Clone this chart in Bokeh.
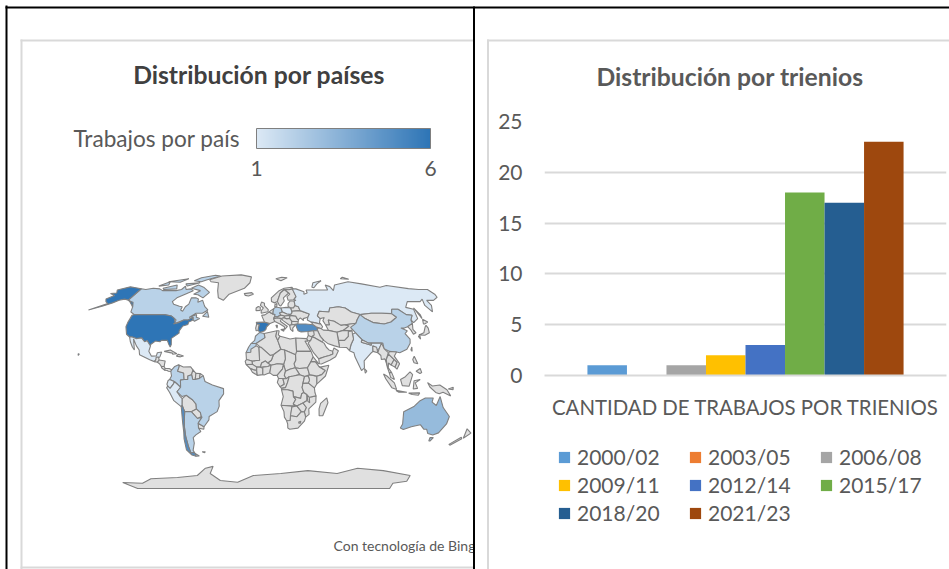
import numpy as np
from bokeh.embed import file_html
from bokeh.layouts import row
from bokeh.models import (ColorBar, ColumnDataSource, FactorRange, FixedTicker, Legend, LegendItem,
                          LinearColorMapper, Range1d)
from bokeh.plotting import figure
from bokeh.resources import INLINE
from bokeh.transform import dodge, transform
from bokeh.core.properties import value

# ---- bar chart data
PERIODS = ["2000/02", "2003/05", "2006/08", "2009/11", "2012/14", "2015/17", "2018/20", "2021/23"]
COUNTS = [1, 0, 1, 2, 3, 18, 17, 23]
COLORS = ["#5b9bd5", "#ed7d31", "#a5a5a5", "#ffc000", "#4472c4", "#70ad47", "#255e91", "#9e480e"]
CATEGORY = "CANTIDAD DE TRABAJOS POR TRIENIOS"

# ---- map data: works per country
WORKS = {"USA": 6, "Spain": 6, "Turkey": 5, "Chile": 5, "Australia": 3, "Canada": 2, "Brazil": 2, "Colombia": 2,
         "Argentina": 2, "China": 2, "Germany": 2, "Morocco": 2, "Mexico": 1, "Peru": 1, "Ecuador": 1,
         "Russia": 1, "India": 1, "Poland": 1}

# (country, outline as lon/lat)
SHAPES = [
 ("Canada", [(-141,69.6),(-135,69),(-128,70),(-120,69.5),(-115,68),(-108,68),(-100,68),(-95,69),(-94,72),(-90,69),(-85,69.5),(-81,68),(-87,65),(-93,62),(-95,59),(-92,57),(-85,55.3),(-82,55),(-82,52.5),(-79.5,51.5),(-79,55),(-77,57),(-78,62),(-73,62),(-70,61),(-69,58.5),(-65,60),(-62,57),(-60,55),(-56,52.5),(-60,50),(-66,50),(-71,46.8),(-65,49),(-64.5,47),(-61,46),(-65,44),(-66.5,45),(-67.5,47),(-71,45),(-75,45),(-79,43.5),(-83,42),(-82,45),(-88,48),(-95,49),(-123,49),(-128,51),(-130,54.5),(-134,58),(-137,59),(-141,60)]),
 ("Canada", [(-80,73),(-72,71),(-62,66.5),(-66,62),(-73,64.5),(-78,65),(-73,68),(-85,70)]),
 ("Canada", [(-117,70),(-105,73),(-101,69.5),(-115,69)]),
 ("Canada", [(-90,77),(-85,80),(-70,83),(-62,82),(-75,78),(-80,76)]),
 ("Canada", [(-125,72),(-118,76),(-115,73)]),
 ("Canada", [(-96,74),(-80,75),(-92,72)]),
 ("Canada", [(-120,76),(-100,79),(-105,75.5)]),
 ("Canada", [(-59,47.7),(-56,51.5),(-53,47)]),
 ("USA", [(-124.7,48.4),(-123,49),(-95,49),(-88,48),(-84,46),(-82,43),(-83,42),(-79,43),(-75,45),(-71,45),(-67.5,47),(-67,44.8),(-70,43.5),(-70,41.7),(-74,40.5),(-76,37),(-75.5,35.3),(-81,31.5),(-80,27),(-80.5,25.2),(-82,27),(-84,30),(-89,30),(-90,29),(-94,29.5),(-97.3,27),(-97.2,25.9),(-101,29.7),(-103,29),(-106.5,31.8),(-111,31.3),(-114.8,32.5),(-117,32.5),(-120.5,34.5),(-124,40),(-124.5,43)]),
 ("USA", [(-141,69.6),(-156.5,71.3),(-166,68.5),(-162,66),(-168,65.6),(-161,64),(-165,61),(-162,59),(-158,57.5),(-170,52.5),(-160,55.5),(-154,58),(-150,60),(-146,61),(-140,60),(-134,57),(-130,54.7),(-134,58.5),(-137,59),(-141,60)]),
 ("USA", [(-156,20.3),(-155,20),(-155.6,19)]),
 ("Mexico", [(-117,32.5),(-114.8,32.5),(-111,31.3),(-106.5,31.8),(-103,29),(-101,29.7),(-97.2,25.9),(-97.8,22),(-95,18.5),(-91,18.7),(-90.5,21),(-87,21.5),(-88,18),(-91,16),(-92,14.5),(-96,15.8),(-105,19.5),(-106,23),(-109,26),(-113,31),(-110,23),(-112,25),(-115,29)]),
 ("Guatemala", [(-92,14.5),(-91,16),(-91,17.8),(-89,17.8),(-88.3,15.7),(-89.5,14)]),
 ("Honduras", [(-89.5,14),(-88.3,15.7),(-83.2,15),(-83.7,11),(-86,11),(-87.7,13)]),
 ("Costa Rica", [(-86,11),(-83.7,11),(-82.7,9.5),(-83,8.2),(-85.7,10)]),
 ("Panama", [(-83,8.2),(-82.7,9.5),(-79.5,9.5),(-77.3,8.5),(-78,7.3),(-80,7.5),(-81,8)]),
 ("Cuba", [(-85,22),(-80,23),(-74.2,20.2),(-77.7,19.9),(-78,20.7)]),
 ("Hispaniola", [(-74.4,18.5),(-73,19.9),(-68.5,18.6),(-71,18)]),
 ("Colombia", [(-77.3,8.5),(-75,11),(-72,12.2),(-71.3,11),(-72.5,7.5),(-67.5,6.2),(-67,1.5),(-70,1),(-69.9,-4.2),(-72,-2.4),(-75,0),(-78.8,1.4),(-77.3,4),(-78,7.3)]),
 ("Venezuela", [(-72,12.2),(-68,10.6),(-62,10.7),(-60,8.5),(-61,5),(-64,4),(-64,1.5),(-67,1.5),(-67.5,6.2),(-72.5,7.5),(-71.3,11)]),
 ("Guyana", [(-60,8.5),(-57.5,6),(-58,1.5),(-60,1.5),(-61,5)]),
 ("Suriname", [(-57.5,6),(-54,5.8),(-54.5,2.3),(-58,1.5)]),
 ("Guiana", [(-54,5.8),(-51.5,4.3),(-54.5,2.3)]),
 ("Ecuador", [(-80,0.8),(-78.8,1.4),(-75,0),(-75.5,-1.5),(-78.5,-5),(-80.3,-3.4),(-81,-2)]),
 ("Peru", [(-81.3,-4.5),(-80.3,-3.4),(-78.5,-5),(-75.5,-1.5),(-75,0),(-72,-2.4),(-69.9,-4.2),(-73,-7.5),(-70.5,-11),(-69,-12.5),(-69.5,-17.5),(-70.4,-18.3),(-76,-14),(-79,-8)]),
 ("Bolivia", [(-69,-12.5),(-65.5,-10),(-60.5,-13.5),(-58,-16.5),(-58,-20),(-62.5,-22),(-65,-22),(-68,-22),(-69.5,-17.5)]),
 ("Paraguay", [(-62.5,-22),(-58,-20),(-55,-22.5),(-54.5,-25.5),(-58,-27)]),
 ("Uruguay", [(-58.4,-34),(-58,-30.5),(-53.5,-33),(-54,-34.8)]),
 ("Argentina", [(-68,-22),(-65,-22),(-62.5,-22),(-58,-27),(-54,-26),(-58,-30.5),(-58.4,-34),(-57,-36.5),(-62,-39),(-65,-41),(-65.5,-45),(-69,-50.5),(-68.5,-52.4),(-72,-52),(-72,-48),(-71.3,-40),(-70.3,-33),(-69,-27)]),
 ("Argentina", [(-68.6,-52.7),(-65.3,-54.8),(-68.6,-55)]),
 ("Chile", [(-70.4,-18.3),(-69.5,-17.5),(-68,-22),(-69,-27),(-70.3,-33),(-71.3,-40),(-72,-48),(-72,-52),(-68.5,-52.4),(-68.6,-55),(-72,-54),(-75,-50),(-73.5,-42),(-72,-37),(-71,-30)]),
 ("Brazil", [(-51.5,4.3),(-50,0),(-44,-2.5),(-35,-5.2),(-35,-9),(-39,-14),(-39,-18),(-41,-22),(-48,-25.5),(-48.5,-28),(-53.5,-33),(-58,-30.5),(-54,-26),(-54.5,-25.5),(-55,-22.5),(-58,-20),(-58,-16.5),(-60.5,-13.5),(-65.5,-10),(-69,-11),(-73,-7.5),(-69.9,-4.2),(-70,1),(-67,1.5),(-64,1.5),(-64,4),(-61,5),(-60,1.5),(-58,1.5),(-54.5,2.3)]),
 ("Falklands", [(-61,-51.5),(-58,-51.5),(-59,-52.3)]),
 ("Greenland", [(-72,78),(-60,82),(-35,83.5),(-20,81),(-20,75),(-25,70),(-40,65),(-44,60),(-50,62),(-54,68),(-58,75),(-68,76)]),
 ("Iceland", [(-24,65.5),(-16,66.3),(-14,65),(-19,63.5),(-22.5,64)]),
 ("Spain", [(-9.2,43.2),(-2,43.4),(3.2,42.4),(0,39.8),(-0.5,38),(-2,36.8),(-5.5,36),(-7.4,37.2),(-7,39.5),(-6.5,41.8),(-8.8,42)]),
 ("Portugal", [(-8.8,42),(-6.5,41.8),(-7,39.5),(-7.4,37.2),(-9,37),(-9.5,39)]),
 ("France", [(-1.8,43.4),(-4.5,48.4),(-1.5,48.8),(2.5,51),(6,49.5),(8,49),(7.5,47.5),(6.5,46),(7.5,43.8),(3.2,42.4)]),
 ("UK", [(-5,50),(1.4,51.2),(1.7,52.8),(-2,55.8),(-2,57.7),(-5,58.6),(-6,56),(-3,54),(-5,52)]),
 ("Ireland", [(-10,52),(-6,52.2),(-6,54.5),(-8,55.2),(-10,54)]),
 ("Germany", [(6,51),(7,53.5),(9,54.8),(14,54),(15,51),(12.2,50.2),(13.5,48.6),(10,47.4),(7.5,47.6),(8,49),(6,49.5)]),
 ("Benelux", [(2.5,51),(4,52),(7,53.5),(6,51),(6,49.5)]),
 ("Alps", [(7.5,47.6),(10,47.4),(13.5,48.6),(17,48),(16,46.7),(13.7,46),(10,46.5),(6.5,46)]),
 ("Italy", [(7.5,43.8),(6.5,46),(10,46.5),(13.7,46),(12.5,44),(18.5,40.2),(16,38),(15.7,40),(12,42)]),
 ("Italy", [(12.5,38),(15.6,38.2),(15,36.7)]),
 ("Sardinia", [(8.3,41),(9.7,41),(9.3,39)]),
 ("Poland", [(14,54),(19,54.5),(23.5,54),(24,50.5),(22.5,49),(19,49.5),(15,51)]),
 ("Czechia", [(12.2,50.2),(15,51),(19,49.5),(22.5,49),(22,48.4),(17,48),(13.5,48.6)]),
 ("Hungary", [(17,48),(22,48.4),(21,46.2),(18.5,45.8),(16,46.7)]),
 ("Romania", [(22,48.4),(27,48),(28.2,45.5),(29,44.8),(28.5,43.7),(22.7,44),(21,46.2)]),
 ("Balkans", [(13.7,46),(16,46.7),(18.5,45.8),(21,46.2),(22.7,44),(22.5,41.5),(20.5,41),(19,42),(15,44.5)]),
 ("Bulgaria", [(22.7,44),(28.5,43.7),(28,42),(22.5,41.5)]),
 ("Greece", [(20.5,41),(22.5,41.5),(26,41.5),(23,39),(23,36.5),(21,38)]),
 ("Norway", [(5,59),(5,62),(14,68),(20,70),(29,71),(30,69.5),(25,68.8),(20,69),(15,66),(12,61),(11,59),(8,58)]),
 ("Sweden", [(11,59),(12,61),(15,66),(20,69),(24,66),(17.5,62),(18,59.5),(14,55.5),(12.7,56)]),
 ("Finland", [(20,69),(25,68.8),(29,69.5),(31,63),(27.8,60.5),(22,60),(21.5,63),(25,65),(24,66)]),
 ("Denmark", [(8,55),(8.5,57),(10.5,57.5),(10,55)]),
 ("Baltics", [(21,55.2),(21.5,57.5),(24,59.5),(28,59.5),(28,56),(26,54),(23.5,54)]),
 ("Belarus", [(23.5,54),(26,54),(28,56),(31,55),(32,52),(24,51.5)]),
 ("Ukraine", [(24,50.5),(24,51.5),(32,52),(40,49.5),(38,47),(33.5,46),(33.5,44.5),(31,46.5),(29,45.2),(28.2,45.5),(27,48),(22,48.4),(22.5,49)]),
 ("Russia", [(28,59.5),(30,60),(28,60.5),(31,63),(29,69.5),(33,69.5),(41,67),(40,65),(44,66),(44,68.5),(54,68.5),(68,68.5),(69,73),(73,71.5),(74,68),(80,73),(100,76),(113,74),(130,71),(140,72.5),(160,69.7),(170,69),(180,69),(180,65),(178,62.5),(170,60),(163,60),(162,56),(156.7,51),(155.5,56),(160,61),(155,59),(142,59),(135,54.5),(141,53),(138,46),(132,43),(131,45),(135,48.5),(130,49),(126,53),(120,53),(117,49.7),(108,50),(98,50),(87,49),(80,51),(76,54),(70,55),(61,54),(59,51),(50,51.5),(47,48),(49,46),(47.5,43),(48.5,41.8),(43,43),(40,43.5),(37,45),(38,47),(40,49.5),(32,52),(31,55),(28,56)]),
 ("Russia", [(52,71),(56,75),(68,77),(60,74),(54,70.5)]),
 ("Russia", [(142,46),(142,54),(143,49)]),
 ("Svalbard", [(12,79),(20,80.5),(27,80),(18,77)]),
 ("Severnaya", [(95,79),(105,78.5),(100,80.5)]),
 ("Turkey", [(26,41.8),(28,42),(35,42),(41.5,41.5),(44.5,39.5),(44.5,37),(36,36.5),(30,36.2),(27.5,37),(26.5,39.5)]),
 ("Caucasus", [(40,43.5),(43,43),(48.5,41.8),(49.5,40),(48,38.5),(44.5,39.5),(41.5,41.5)]),
 ("Kazakhstan", [(47,48),(50,51.5),(59,51),(61,54),(70,55),(76,54),(80,51),(87,49),(82.5,45.3),(80,42.5),(70,41.5),(66,41),(61,44),(56,45),(56,41.3),(52.5,41.5),(51,44.5),(53,46.8),(49,46)]),
 ("Uzbekistan", [(52.5,41.5),(56,41.3),(56,45),(61,44),(66,41),(70,41.5),(73,40.5),(67,37.3),(61,36),(54,37.3),(53,40)]),
 ("Kyrgyzstan", [(70,41.5),(80,42.5),(74,37),(67,37.3),(73,40.5)]),
 ("Mongolia", [(87,49),(98,50),(108,50),(117,49.7),(119.5,47),(112,43.5),(105,42),(96,43),(90,46)]),
 ("China", [(74,39.5),(80,42.5),(82.5,45.3),(87,49),(90,46),(96,43),(105,42),(112,43.5),(119.5,47),(117,49.7),(120,53),(126,53),(130,49),(135,48.5),(131,45),(130.5,42.5),(124.5,40),(121,39),(118,39),(122.5,37),(119.5,35),(122,31),(121,28),(117,23.5),(110.5,21),(108,21.5),(102,22),(98,24),(98,28),(92,28),(88,28),(86,28),(81,30.5),(79,33),(77,35.5)]),
 ("India", [(74,34.5),(77,35.5),(79,33),(81,30.5),(80,28.7),(88,26.5),(88,28),(92,28),(97,28),(94,24),(92,23),(89,26),(88.5,22),(87,21),(80.2,15),(80,10),(77.5,8),(73,18),(72.5,21),(69,22.5),(71,27),(74,31)]),
 ("Pakistan", [(61,25),(61,30),(66,30),(70,33),(71,36.5),(74.5,37),(74,34.5),(74,31),(71,27),(69,22.5),(67,24.8)]),
 ("Afghanistan", [(61,36),(67,37.3),(74.5,37),(71,36.5),(70,33),(66,30),(61,30)]),
 ("Iran", [(44.5,39.5),(48,38.5),(49.5,37.5),(54,37.3),(61,36),(61,25),(57,26),(52,27.5),(48.5,30),(46,33),(44.5,37)]),
 ("Iraq", [(44.5,37),(46,33),(48.5,30),(46.5,29),(41,32),(39,33),(41,37)]),
 ("Syria", [(36,36.5),(41,37),(41,34),(39,33),(36.5,32.3),(35.8,34.5)]),
 ("Jordan", [(34.3,31.3),(35.8,33.5),(39,32.5),(37.5,30),(35,29.5)]),
 ("Saudi Arabia", [(37.5,30),(39,32.5),(41,32),(46.5,29),(48.5,28),(50,25),(52,23),(55,22),(55,20),(52,19),(48,18),(43,16.5),(39,21),(35,28)]),
 ("Oman", [(43,16.5),(48,18),(52,19),(55,20),(55,22),(56.3,24.5),(59.8,22.5),(57,18),(52,15.5),(45,12.8),(43.3,13)]),
 ("Bangladesh", [(88.5,22),(89,26),(92,25),(92.3,21)]),
 ("Nepal", [(80,28.7),(81,30.5),(86,28),(88,28),(88,26.5)]),
 ("Myanmar", [(92.3,21),(94,24),(97,28),(98,24),(101,21),(98.5,16),(98.8,11),(97.5,16.5),(94.5,16),(94.5,19)]),
 ("Thailand", [(98.8,10),(98.5,16),(101,20),(105,16),(102,12),(100,13.5),(99.5,10),(102,6.5),(100,6.5)]),
 ("Vietnam", [(102,22),(108,21.5),(105.5,18.5),(109,13),(106.5,9),(105,10.5),(107,14),(105,16),(101,20)]),
 ("Cambodia", [(102,12),(105,16),(107,14),(105,10.5)]),
 ("Malaysia", [(100,6.5),(102,6.5),(103.5,3),(104,1.4),(101,3)]),
 ("Borneo", [(109,1.5),(113,3.5),(117,7),(119,5),(117.5,1),(116,-3.5),(110.5,-3)]),
 ("Sumatra", [(95.3,5.5),(98,4),(104,-1),(106,-5.8),(102,-4.5),(97,2)]),
 ("Java", [(105.5,-6.5),(114.5,-7.8),(108,-7.8)]),
 ("Sulawesi", [(119.5,-5.5),(120,0.5),(125,1.5),(121,-1),(123,-5)]),
 ("New Guinea", [(131,-0.8),(135,-3.3),(141,-2.6),(147,-6),(150.5,-10.5),(144,-7.8),(141,-9),(138,-8),(133,-4)]),
 ("Timor", [(116,-8.5),(125,-8.3),(124,-10),(119,-9.5)]),
 ("New Britain", [(148,-5.5),(152,-4.2),(152,-6)]),
 ("Luzon", [(120.3,16),(122,18.5),(124,13),(121,13.7)]),
 ("Mindanao", [(122,7.5),(125.5,9.5),(126.5,6.5),(125,5.8)]),
 ("Taiwan", [(120.2,23),(121.5,25.2),(121,22)]),
 ("Honshu", [(131,34),(136,35.5),(140,40),(141.5,41),(142,39),(140.8,35.5),(136,33.8)]),
 ("Hokkaido", [(140,42),(142,45.5),(145,43.5),(141,42)]),
 ("Kyushu", [(130,33),(131.5,33.5),(131,31)]),
 ("Korea", [(124.5,40),(130.5,42.5),(128,38),(129.3,35.5),(126.5,34.5),(126,37.5)]),
 ("Sri Lanka", [(80,9.5),(81.8,7.5),(80.5,6)]),
 ("Australia", [(114,-22),(122,-18),(126,-14),(130,-12),(136.5,-12),(136,-15),(140,-17.5),(142,-11),(146,-19),(153,-25.5),(153,-31),(150,-37.5),(146,-39),(141,-38),(138,-34.8),(135.5,-34.8),(131,-31.5),(124,-33),(118,-35),(115,-34),(115.7,-31)]),
 ("Australia", [(145,-41),(148,-41),(147,-43.5),(146,-43.5)]),
 ("New Zealand", [(172.7,-34.5),(178.5,-37.7),(175,-41.5),(174,-39)]),
 ("New Zealand", [(172.5,-40.7),(174,-41.8),(168,-46.6),(166.5,-46)]),
 ("Morocco", [(-5.9,35.8),(-2,35),(-1.2,32),(-8.7,27.7),(-13,27.7),(-10,30),(-9.5,33)]),
 ("Morocco", [(-13,27.7),(-8.7,27.7),(-8.7,26),(-13,21.3),(-17,21),(-15,25)]),
 ("Algeria", [(-2,35),(9,37),(8,33),(9.5,30),(12,23.5),(5.7,19.5),(3,19),(-8.7,27.7),(-1.2,32)]),
 ("Tunisia", [(9,37),(11,37),(10.2,34),(11.5,33),(9.5,30),(8,33)]),
 ("Libya", [(11.5,33),(15,32.3),(20,31),(25,31.7),(25,20),(24,19.5),(15,23),(12,23.5),(9.5,30)]),
 ("Egypt", [(25,31.7),(34,31.3),(34.9,29.5),(32.5,29.5),(37,22),(25,22)]),
 ("Sudan", [(24,19.5),(25,22),(37,22),(38.5,18),(36.5,14.5),(33.5,10),(27,9.5),(23.5,10),(22.5,13),(24,15.5)]),
 ("South Sudan", [(23.5,10),(27,9.5),(33.5,10),(35,5),(31,3.7),(27,5)]),
 ("Chad", [(15,23),(24,19.5),(24,15.5),(22.5,13),(23.5,10),(19,9),(15.5,7.5),(14,12.5),(15.5,16.5)]),
 ("Niger", [(5.7,19.5),(12,23.5),(15,23),(15.5,16.5),(14,12.5),(9,13),(3.7,11.8),(1,13.5),(4,15.5)]),
 ("Mali", [(-12,15),(-5.7,15.5),(-6.5,25),(-4.5,25),(3,19),(5.7,19.5),(4,15.5),(1,13.5),(-1,15),(-4,13.5),(-5,10.5),(-8,10.5),(-11.5,12.5)]),
 ("Mauritania", [(-17,21),(-13,21.3),(-13,23.5),(-8.7,26),(-6.5,25),(-5.7,15.5),(-12,15),(-16.5,16)]),
 ("Senegal", [(-16.5,16),(-12,15),(-11.5,12.5),(-16.7,12.4),(-17.5,14.7)]),
 ("Guinea", [(-16.7,12.4),(-11.5,12.5),(-8,10.5),(-8,8),(-10.5,8.5),(-13.3,9.5)]),
 ("Liberia", [(-13.3,9.5),(-10.5,8.5),(-8,8),(-7.5,4.5),(-11.5,6.8)]),
 ("Ivory Coast", [(-8,8),(-8,10.5),(-5,10.5),(-3,9.5),(-3,5),(-7.5,4.5)]),
 ("Burkina", [(-5,10.5),(-4,13.5),(-1,15),(1,13.5),(3.7,11.8),(1,11),(-3,10.5)]),
 ("Ghana", [(-3,9.5),(-3,10.5),(1,11),(3.7,11.8),(2.7,6.3),(1,5.9),(-2,4.8),(-3,5)]),
 ("Nigeria", [(2.7,6.3),(3.7,11.8),(9,13),(14,12.5),(13,9),(8.6,4.5),(5.5,4.5)]),
 ("Cameroon", [(8.6,4.5),(13,9),(14,12.5),(15.5,7.5),(14.5,4.5),(16,2),(9.8,2.2)]),
 ("CAR", [(14.5,4.5),(15.5,7.5),(19,9),(23.5,10),(27,5),(22,4),(18.5,3.5),(16,2)]),
 ("Gabon", [(9.8,2.2),(13.3,2.2),(14.5,-2),(11,-3.8),(8.8,-0.7)]),
 ("Congo", [(13.3,2.2),(16,2),(18.5,3.5),(17,-1),(15.5,-4.5),(12.2,-5),(11,-3.8),(14.5,-2)]),
 ("DRC", [(18.5,3.5),(22,4),(27,5),(31,3.7),(29.6,-1.4),(29,-4.5),(30.5,-8),(28.7,-9),(28,-12.3),(22,-11),(21.5,-7),(17,-6),(12.2,-6),(12.2,-5),(15.5,-4.5),(17,-1)]),
 ("Angola", [(12.2,-6),(17,-6),(21.5,-7),(22,-11),(24,-13),(22,-16.5),(25,-17.8),(21,-18),(12,-17.3),(13.7,-11)]),
 ("Zambia", [(22,-11),(28,-12.3),(28.7,-9),(30.5,-8),(33,-9.5),(33,-14),(30,-15.7),(25,-17.8),(22,-16.5),(24,-13)]),
 ("Namibia", [(12,-17.3),(21,-18),(25,-17.8),(21,-18.5),(20,-28.5),(17,-28.7),(15,-26),(14.5,-22)]),
 ("Botswana", [(21,-18.5),(25,-17.8),(29,-22),(25.5,-25.7),(20,-25)]),
 ("Zimbabwe", [(25,-17.8),(30,-15.7),(33,-19),(31.5,-22.3),(29,-22)]),
 ("Mozambique", [(33,-14),(35,-11.5),(40.5,-10.5),(40.5,-15),(35,-20),(35.5,-24),(32.8,-26),(31.5,-22.3),(33,-19),(30,-15.7)]),
 ("Malawi", [(33,-9.5),(35,-11.5),(35.5,-15.5),(34,-14.5)]),
 ("South Africa", [(17,-28.7),(20,-28.5),(20,-25),(25.5,-25.7),(29,-22),(31.5,-22.3),(32.8,-26),(32,-29),(27,-34),(20,-34.8),(18.3,-34),(18,-31)]),
 ("Lesotho", [(27.2,-29.5),(29,-29),(28.7,-30.5),(27.5,-30.5)]),
 ("Tanzania", [(29.6,-1.4),(34,-1),(39,-4.7),(39.5,-8),(40.5,-10.5),(35,-11.5),(33,-9.5),(30.5,-8),(29,-4.5)]),
 ("Kenya", [(34,-1),(35,1),(34,4),(35,5),(41,3.9),(41,-1.6),(39,-4.7)]),
 ("Uganda", [(29.6,-1.4),(31,3.7),(34,4),(35,1),(34,-1)]),
 ("Ethiopia", [(33.5,10),(36.5,14.5),(40,14.5),(42.8,11),(48,8),(45,5),(41,3.9),(35,5)]),
 ("Eritrea", [(36.5,14.5),(38.5,18),(43,12.7),(40,14.5)]),
 ("Somalia", [(41,-1.6),(41,3.9),(45,5),(48,8),(42.8,11),(44,10.5),(51,11.8),(48,4),(42,-1)]),
 ("Madagascar", [(49.3,-12),(50.5,-15.5),(47,-25),(44,-25),(43.5,-20),(44.5,-16)]),
 ("Antarctica", [(-180,-77.3),(-157,-78),(-137,-73.6),(-104,-72.5),(-79,-70.7),(-65,-64.5),(-56,-63),(-63,-69),(-56,-75.3),(-36,-77),(-15,-70.7),(16,-69),(45,-66.5),(79,-69),(97,-64.5),(127,-66.5),(164,-70.7),(172,-76),(160,-78),(172,-84),(-180,-84)]),
]

# Robinson projection table (latitude in 5 degree steps)
ROB_LAT = np.arange(0, 95, 5)
ROB_PLEN = [1, .9986, .9954, .99, .9822, .973, .96, .9427, .9216, .8962, .8679, .835, .7986, .7597, .7186, .6732, .6213, .5722, .5322]
ROB_PDFE = [0, .062, .124, .186, .248, .31, .372, .434, .4958, .5571, .6176, .6769, .7346, .7903, .8435, .8936, .9394, .9761, 1]

def robinson(pts):
    lon = np.array([p[0] for p in pts], float)
    lat = np.array([p[1] for p in pts], float)
    x = lon * np.interp(np.abs(lat), ROB_LAT, ROB_PLEN)
    y = np.sign(lat) * np.interp(np.abs(lat), ROB_LAT, ROB_PDFE)
    return x.tolist(), y.tolist()

W, H = 949, 569
LEFT_W = 472.5
INK = "#595959"
TITLE = "#404040"
RULE = "#d9d9d9"
FONT = "Lato"

# ---------- base: full page frame holding the panels and the map
base = figure(width=W, height=H, x_range=Range1d(0, W), y_range=Range1d(H, 0),
              toolbar_location=None, output_backend="svg", min_border=0, outline_line_color=None)
base.frame_align = False
base.axis.visible = False
base.grid.visible = False
MX0, MKX, MY0, MKY = 266, 1.23, 381, 110.5
base.extra_x_ranges["rx"] = Range1d((0 - MX0) / MKX, (W - MX0) / MKX)
base.extra_y_ranges["ry"] = Range1d((MY0 - H) / MKY, MY0 / MKY)

base.quad(left=[20], right=[LEFT_W], top=[39], bottom=[41], color=RULE, line_color=None)
base.quad(left=[20], right=[22], top=[39], bottom=[H], color=RULE, line_color=None)
base.quad(left=[20], right=[LEFT_W], top=[566], bottom=[568], color=RULE, line_color=None)

c0, c1 = np.array([0xdc, 0xe9, 0xf5]), np.array([0x2e, 0x75, 0xb6])
ramp = ["#%02x%02x%02x" % tuple(int(round(v)) for v in c0 + (c1 - c0) * i / 255) for i in range(256)]
mapper = LinearColorMapper(palette=ramp, low=1, high=6, nan_color="#e0e0e0")

xs, ys, vals = [], [], []
for name, pts in SHAPES:
    x, y = robinson(pts)
    xs.append(x); ys.append(y); vals.append(float(WORKS.get(name, np.nan)))
base.patches("xs", "ys", source=ColumnDataSource(dict(xs=xs, ys=ys, v=vals)),
             fill_color=transform("v", mapper), line_color="#808080", line_width=1.1,
             x_range_name="rx", y_range_name="ry")

base.text([258.5], [74], text=["Distribución por países"], text_font=value(FONT), text_font_style="bold",
          text_font_size="24.7px", text_color=TITLE, text_align="center", text_baseline="middle")
base.text([73], [138], text=["Trabajos por país"], text_font=value(FONT), text_font_size="22.6px",
          text_color=INK, text_align="left", text_baseline="middle")
base.text([333], [545], text=["Con tecnología de Bing"], text_font=value(FONT), text_font_size="14px",
          text_color=INK, text_align="left", text_baseline="middle")
# cover what runs past the panel edge, then draw the page rules
base.quad(left=[LEFT_W], right=[W], top=[9], bottom=[H], color="white", line_color=None)
base.quad(left=[5], right=[7], top=[5], bottom=[H], color="black", line_color=None)
base.quad(left=[5], right=[W], top=[6], bottom=[8], color="black", line_color=None)
base.quad(left=[LEFT_W], right=[LEFT_W + 2], top=[6], bottom=[H], color="black", line_color=None)
base.quad(left=[486.5], right=[W], top=[39], bottom=[41], color=RULE, line_color=None)
base.quad(left=[486.5], right=[488.5], top=[39], bottom=[H], color=RULE, line_color=None)
base.text([729.5], [76], text=["Distribución por trienios"], text_font=value(FONT), text_font_style="bold",
          text_font_size="24.7px", text_color=INK, text_align="center", text_baseline="middle")

bar = ColorBar(color_mapper=mapper, orientation="horizontal", width=174, height=20, padding=0,
               location=(256, 391), ticker=FixedTicker(ticks=[1, 6]), major_tick_line_color=None,
               minor_tick_line_color=None, bar_line_color="#7f7f7f", background_fill_color=None,
               border_line_color=None, major_label_text_font=FONT, major_label_text_font_size="21px",
               major_label_text_color=INK, label_standoff=12)
base.add_layout(bar, "center")

# legend keys live on the base (outside its visible range) so the legend may sit below the chart's plot area
items = []
for label, color in zip(PERIODS, COLORS):
    key = base.quad(left=[-20], right=[-10], top=[-20], bottom=[-10], color=color, line_color=None)
    items.append(LegendItem(label=label, renderers=[key]))
lg = Legend(items=items, orientation="horizontal", ncols=3, location=(557, 44), border_line_color=None,
            background_fill_color=None, padding=0, margin=0, glyph_width=14, glyph_height=14,
            label_standoff=6, label_width=108, label_height=20, spacing=3, label_text_font=FONT,
            label_text_font_size="21px", label_text_color=INK)
base.add_layout(lg, "center")

# ---------- column chart laid over the right half with real axes
RIGHT_W = 476
x_range = FactorRange(factors=[CATEGORY], range_padding=0, factor_padding=0)
right = figure(width=RIGHT_W, height=H, x_range=x_range, y_range=Range1d(0, 25), toolbar_location=None,
               output_backend="svg", min_border_left=71, min_border_right=3, min_border_top=121,
               min_border_bottom=194, outline_line_color=None, background_fill_color=None,
               border_fill_color=None, margin=(0, 0, 0, -RIGHT_W))
right.frame_align = False
for i, (count, color) in enumerate(zip(COUNTS, COLORS)):
    right.vbar(x=dodge("cat", (i - 3.5) * 0.0983, range=x_range), top="n", width=0.0983, bottom=0,
               color=color, line_color=None,
               source=ColumnDataSource(dict(cat=[CATEGORY], n=[count])))

right.yaxis.ticker = FixedTicker(ticks=[0, 5, 10, 15, 20, 25])
right.yaxis.axis_line_color = None
right.yaxis.major_tick_line_color = None
right.yaxis.minor_tick_line_color = None
right.yaxis.major_label_text_font = FONT
right.yaxis.major_label_text_font_size = "21px"
right.yaxis.major_label_text_color = INK
right.yaxis.major_label_standoff = 16
right.xaxis.axis_line_color = RULE
right.xaxis.axis_line_width = 2
right.xaxis.major_tick_line_color = None
right.xaxis.minor_tick_line_color = None
right.xaxis.major_label_text_font = FONT
right.xaxis.major_label_text_font_size = "20.4px"
right.xaxis.major_label_text_color = INK
right.xaxis.major_label_standoff = 13
right.xgrid.visible = False
right.ygrid.grid_line_color = RULE
right.ygrid.grid_line_width = 2

page = row(base, right, spacing=0)
open("out.html", "w").write(file_html(page, INLINE))
